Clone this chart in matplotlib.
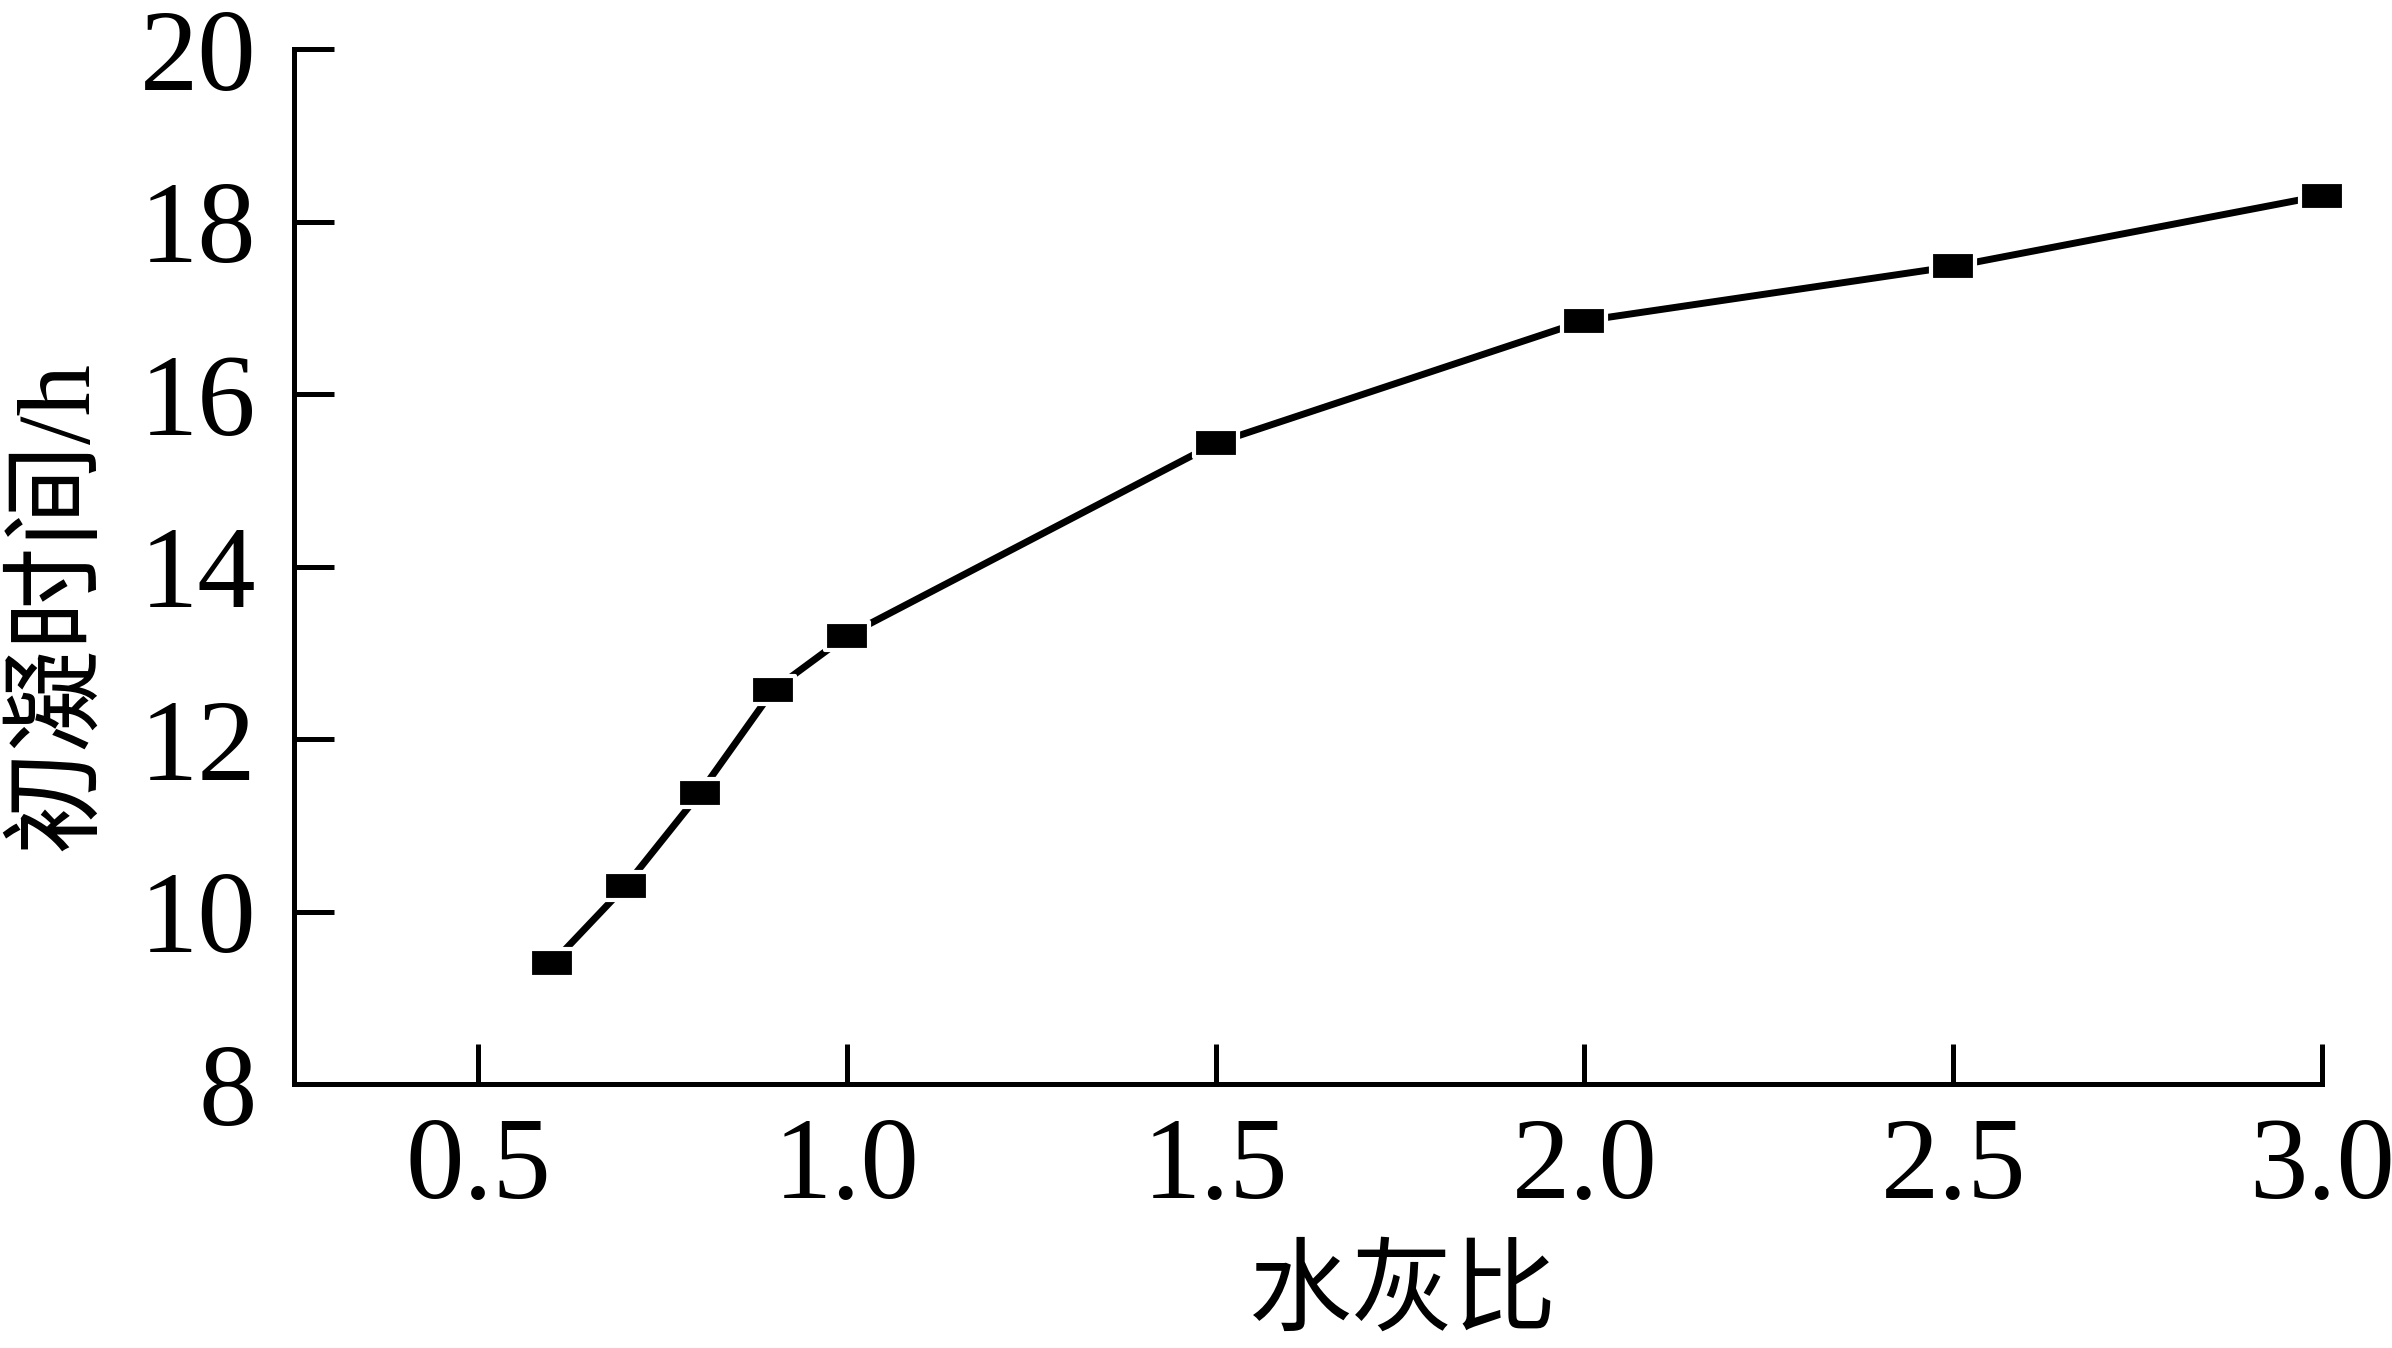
import matplotlib.pyplot as plt
from matplotlib.path import Path
from matplotlib.ticker import FormatStrFormatter

plt.rcParams['font.family'] = ['Liberation Serif', 'Noto Sans CJK SC']

# 数据
wc_ratio = [0.6, 0.7, 0.8, 0.9, 1.0, 1.5, 2.0, 2.5, 3.0]
set_time = [9.4, 10.3, 11.37, 12.57, 13.2, 15.43, 16.85, 17.48, 18.3]
x_ticks = [0.5, 1.0, 1.5, 2.0, 2.5, 3.0]
y_ticks = [8, 10, 12, 14, 16, 18, 20]

# 扁的方块标记
rect = Path([(-1.5, -1), (1.5, -1), (1.5, 1), (-1.5, 1), (-1.5, -1)],
            [Path.MOVETO, Path.LINETO, Path.LINETO, Path.LINETO, Path.CLOSEPOLY])

fig = plt.figure(figsize=(23.92, 13.48), dpi=100)
ax = fig.add_axes([0.1229, 0.1958, 0.8478, 0.7678])

ax.plot(wc_ratio, set_time, color='black', lw=5, marker=rect, ms=31,
        mfc='black', mec='white', mew=3, solid_capstyle='round', clip_on=False)

ax.set_xlim(0.25, 3.0)
ax.set_ylim(8, 20)
ax.set_xticks(x_ticks)
ax.set_yticks(y_ticks)
ax.xaxis.set_major_formatter(FormatStrFormatter('%.1f'))

ax.spines['top'].set_visible(False)
ax.spines['right'].set_visible(False)
for s in ['left', 'bottom']:
    ax.spines[s].set_linewidth(3.6)
ax.tick_params(axis='both', direction='in', length=29, width=3.6, labelsize=84)
ax.tick_params(axis='x', pad=24)
ax.tick_params(axis='y', pad=27)

ax.set_xlabel('水灰比', fontsize=74)
ax.set_ylabel('初凝时间/h', fontsize=74)
ax.xaxis.set_label_coords(0.547, -0.206)
ax.yaxis.set_label_coords(-0.115, 0.462)
ax.xaxis.label.set_va('center')
ax.yaxis.label.set_va('center')

plt.savefig('out.png', dpi=100)
plt.close()
